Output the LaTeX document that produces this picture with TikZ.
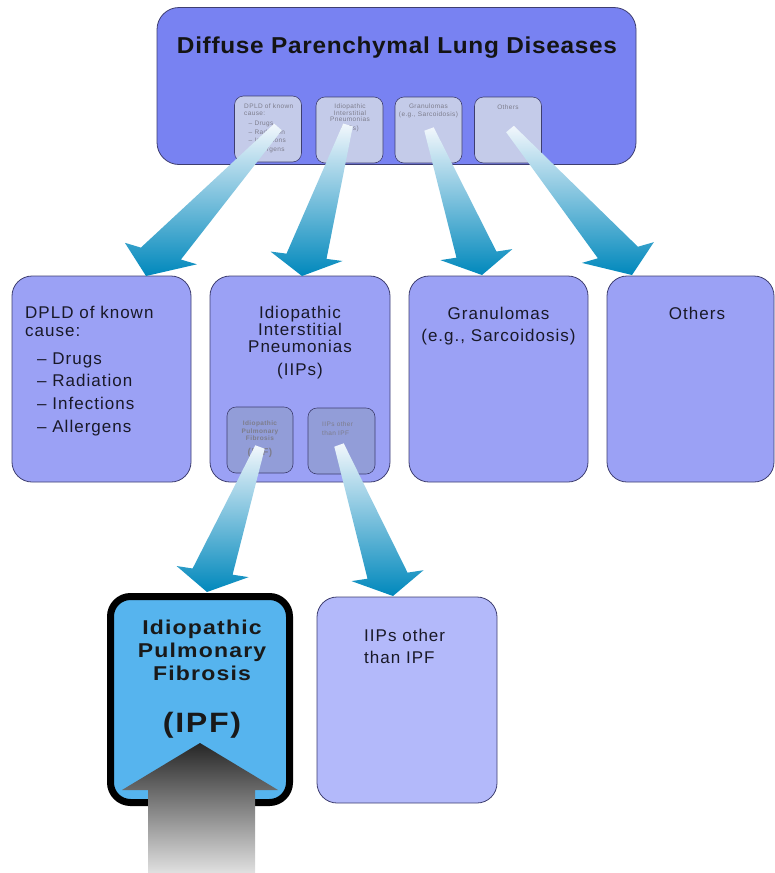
\documentclass[tikz,border=0pt]{standalone}
\usepackage{fontspec}
\setmainfont{Liberation Sans}
\newfontfamily\lungfont[LetterSpace=6]{Liberation Sans}
\newfontfamily\titlefont[FakeStretch=1.06,LetterSpace=3]{Liberation Sans}
\newfontfamily\ipffont[FakeStretch=1.15,LetterSpace=6]{Liberation Sans}
\usetikzlibrary{calc}

% fat shaded arrow from tail #1 to tip #2
\newcommand{\fatarrow}[2]{%
  \shade[top color=kTail,bottom color=kTip]
    let \p1=($(#2)-(#1)$), \n1={veclen(\x1,\y1)}, \n2={0.45*\x1/\n1},
        \n3={veclen(0.75*\x1,\y1)}, \n4={15+18*abs(\x1/\n1)},
        \p2=($(#2)-({\n4*0.75*\x1/\n3},{\n4*\y1/\n3})$) in
    ($(#1)!5pt!90:(#2)$) -- ($(\p2)+(20pt,{20*\n2})$)
    -- ($(\p2)+(36pt,{36*\n2})$) -- (#2)
    -- ($(\p2)+(-36pt,{-36*\n2})$) -- ($(\p2)+(-20pt,{-20*\n2})$)
    -- ($(#1)!5pt!-90:(#2)$) -- cycle;}

\begin{document}
\begin{tikzpicture}[x=1pt,y=-1pt,
  sz/.style 2 args={minimum width=#1pt,minimum height=#2pt},
  lungbox/.style={draw=kEdge,line width=0.8pt,rounded corners=20pt,inner sep=0pt},
  minibox/.style={draw=kEdge,line width=0.6pt,rounded corners=9pt,fill=kMini,inner sep=0pt},
  bigtext/.style={inner sep=0pt,text=kText,font=\lungfont\fontsize{17}{17}\selectfont},
  tinytext/.style={inner sep=0pt,text=kGrey,font=\lungfont\fontsize{6.5}{6.5}\selectfont}]
  % colors
  \definecolor{kTop}{RGB}{120,130,242}
  \definecolor{kMini}{RGB}{196,203,233}
  \definecolor{kMid}{RGB}{155,161,245}
  \definecolor{kInner}{RGB}{146,157,216}
  \definecolor{kOth}{RGB}{179,185,250}
  \definecolor{kIPF}{RGB}{86,180,238}
  \definecolor{kEdge}{RGB}{62,62,112}
  \definecolor{kText}{RGB}{25,25,40}
  \definecolor{kGrey}{RGB}{125,125,140}
  \definecolor{kTail}{RGB}{242,247,252}
  \definecolor{kTip}{RGB}{0,136,188}
  \useasboundingbox (0,0) rectangle (775,873);
  % top box
  \node[lungbox,fill=kTop,rounded corners=22pt,sz={479}{157}] (dpld) at (396.5,86) {};
  \node[anchor=base,inner sep=0pt,text=black!92,font=\titlefont\bfseries\fontsize{23}{23}\selectfont]
    (title) at (397,53) {Diffuse Parenchymal Lung Diseases};
  \node[minibox,sz={67}{66}] (sknown) at (268,129) {};
  \node[minibox,sz={67}{66}] (siip) at (349.5,130) {};
  \node[minibox,sz={67}{66}] (sgran) at (428.5,130) {};
  \node[minibox,sz={67}{66}] (sother) at (508,130) {};
  \node[tinytext,anchor=north west,align=left] (tknown) at (244,104)
    {DPLD of known\\cause:\\[4pt]\hspace{4.5pt}– Drugs\\[1.9pt]\hspace{4.5pt}– Radiation\\[1.9pt]\hspace{4.5pt}– Infections\\[1.9pt]\hspace{4.5pt}– Allergens};
  \node[tinytext,anchor=north,align=center] (tiip) at (350,104)
    {Idiopathic\\Interstitial\\Pneumonias\\[2pt](IIPs)};
  \node[tinytext,anchor=north,align=center] (tgran) at (428.5,104)
    {Granulomas\\[1.5pt](e.g., Sarcoidosis)};
  \node[tinytext,anchor=base] (tother) at (508,109) {Others};
  % middle boxes
  \node[lungbox,fill=kMid,sz={179}{206}] (known) at (101.5,379) {};
  \node[lungbox,fill=kMid,sz={180}{206}] (iip) at (300,379) {};
  \node[lungbox,fill=kMid,sz={179}{206}] (gran) at (498.5,379) {};
  \node[lungbox,fill=kMid,sz={167}{206}] (other) at (690.5,379) {};
  \node[bigtext,anchor=north west,align=left] (lknown) at (25,305.5)
    {DPLD of known\\[1pt]cause:\\[11pt]\hspace{12pt}– Drugs\\[5.7pt]\hspace{12pt}– Radiation\\[5.7pt]\hspace{12pt}– Infections\\[5.7pt]\hspace{12pt}– Allergens};
  \node[bigtext,anchor=north,align=center] (liip) at (300,305.5)
    {Idiopathic\\Interstitial\\Pneumonias\\[6pt](IIPs)};
  \node[bigtext,anchor=north,align=center] (lgran) at (498.5,306.5)
    {Granulomas\\[5pt](e.g., Sarcoidosis)};
  \node[bigtext,anchor=base] (lother) at (697,319) {Others};
  % inner boxes
  \node[minibox,fill=kInner,sz={66}{66}] (iipf) at (260,440) {};
  \node[minibox,fill=kInner,sz={67}{66}] (iother) at (341.5,441) {};
  \node[tinytext,anchor=north,align=center,font=\lungfont\bfseries\fontsize{6.5}{7.3}\selectfont]
    (tipf) at (260,421) {Idiopathic\\Pulmonary\\Fibrosis};
  \node[tinytext,anchor=base,font=\lungfont\bfseries\fontsize{10}{10}\selectfont]
    (tipfs) at (260,455) {(IPF)};
  \node[tinytext,anchor=north west,align=left] (tiother) at (322,422)
    {IIPs other\\[2pt]than IPF};
  % bottom boxes
  \node[lungbox,draw=black,line width=7pt,fill=kIPF,sz={179}{206}] (ipf) at (200,699.5) {};
  \node[lungbox,fill=kOth,sz={180}{206}] (rest) at (407,700) {};
  \node[anchor=north,align=center,inner sep=0pt,text=black!90,font=\ipffont\bfseries\fontsize{20}{23}\selectfont]
    (lipf) at (202,620) {Idiopathic\\Pulmonary\\Fibrosis};
  \node[anchor=base,inner sep=0pt,text=black!90,font=\ipffont\bfseries\fontsize{28}{28}\selectfont]
    (lipfs) at (202,732) {(IPF)};
  \node[bigtext,anchor=north west,align=left] (lrest) at (364,629)
    {IIPs other\\[5pt]than IPF};
  % arrows
  \coordinate (t1) at (278,127); \coordinate (h1) at (146,276);
  \coordinate (t2) at (348,125); \coordinate (h2) at (302,276);
  \coordinate (t3) at (429,129); \coordinate (h3) at (482,275);
  \coordinate (t4) at (510,129); \coordinate (h4) at (632,275);
  \coordinate (t5) at (260,447); \coordinate (h5) at (207,592);
  \coordinate (t6) at (339,445); \coordinate (h6) at (393,596);
  \foreach \i in {1,...,6}
    \fatarrow{t\i}{h\i};
  % grey arrow
  \shade[top color=black!85,middle color=black!58,bottom color=black!12]
    (200,743) -- (278,790) -- (255,790) -- (255,873) -- (148,873) -- (148,790) -- (122,790) -- cycle;
\end{tikzpicture}
\end{document}
